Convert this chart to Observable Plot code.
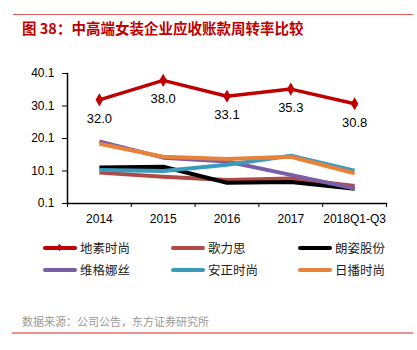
<!DOCTYPE html>
<html><head><meta charset="utf-8">
<script src="https://cdn.jsdelivr.net/npm/d3@7"></script>
<script src="https://cdn.jsdelivr.net/npm/@observablehq/plot@0.6"></script>
<style>
html,body{margin:0;padding:0;background:#fff;}
#page{position:relative;width:417px;height:350px;overflow:hidden;font-family:"Liberation Sans",Arial,sans-serif;}
.abs{position:absolute;}
#topline{left:13px;top:13.5px;width:400px;height:1px;background:#e05a5a;}
#title{left:22px;top:18px;font-family:"Noto Sans CJK SC",sans-serif;font-weight:bold;font-size:14.5px;color:#c00000;white-space:nowrap;line-height:20px;}
#chart{left:0;top:60px;}
.lg{position:absolute;height:16px;line-height:16px;font-family:"Noto Sans CJK SC",sans-serif;font-size:12.5px;color:#222;white-space:nowrap;}
.sw{position:absolute;top:6px;width:34px;height:4px;border-radius:2px;}
.lt{position:absolute;top:0;}
.dia{position:absolute;left:14px;top:5px;width:5px;height:5px;transform:rotate(45deg);}
#source{left:22px;top:313px;font-family:"Noto Sans CJK SC",sans-serif;font-size:11px;color:#999;white-space:nowrap;line-height:16px;}
#botline{left:12px;top:332px;width:401px;height:1.5px;background:#f09090;}
</style></head>
<body><div id="page">
<div id="topline" class="abs"></div>
<div id="title" class="abs">图 38：中高端女装企业应收账款周转率比较</div>
<div id="chart" class="abs"></div>
<div id="legend"></div>
<div id="source" class="abs">数据来源：公司公告，东方证券研究所</div>
<div id="botline" class="abs"></div>
</div>
<script>
const years = ["2014", "2015", "2016", "2017", "2018Q1-Q3"];
const seriesNames = ["地素时尚", "歌力思", "朗姿股份", "维格娜丝", "安正时尚", "日播时尚"];
const seriesColors = ["#c00000", "#b04a46", "#000000", "#7a5fa6", "#3a9bbd", "#e8823a"];
const disu = [32.0, 38.0, 33.1, 35.3, 30.8];
const gelisi = [9.6, 8.3, 7.3, 7.8, 5.5];
const langzi = [11.2, 11.4, 6.5, 6.7, 4.6];
const weige = [19.2, 14.2, 13.0, 8.9, 4.7];
const anzheng = [10.4, 10.1, 12.0, 14.8, 10.2];
const ribo = [18.5, 14.5, 13.8, 14.5, 9.4];
const yTicks = [0.1, 10.1, 20.1, 30.1, 40.1];

const allValues = [disu, gelisi, langzi, weige, anzheng, ribo];
const rows = [];
allValues.forEach((vals, s) => vals.forEach((v, i) => rows.push({series: seriesNames[s], i, v})));
const redRows = rows.filter(d => d.series === seriesNames[0]);
const otherRows = rows.filter(d => d.series !== seriesNames[0]);

const chart = Plot.plot({
  width: 417, height: 170,
  marginLeft: 67, marginRight: 31, marginTop: 13, marginBottom: 27,
  style: {fontFamily: "Liberation Sans, Arial, sans-serif", fontSize: "12px", color: "#000", background: "transparent"},
  x: {type: "linear", domain: [-0.5, years.length - 0.5]},
  y: {domain: [0.1, 40.1]},
  color: {domain: seriesNames, range: seriesColors},
  marks: [
    Plot.axisY({ticks: yTicks, tickFormat: d => d.toFixed(1), tickSize: 5, tickPadding: 8, label: null, fontSize: 12}),
    Plot.axisX({ticks: d3.range(years.length), tickFormat: i => years[i], tickSize: 0, tickPadding: 11, label: null, fontSize: 12}),
    Plot.axisX({ticks: d3.range(years.length + 1).map(k => k - 0.5), tickFormat: () => "", tickSize: 4, label: null}),
    Plot.frame({anchor: "left", stroke: "#000", strokeWidth: 1.5}),
    Plot.frame({anchor: "bottom", stroke: "#000", strokeWidth: 1.5}),
    Plot.line(otherRows, {x: "i", y: "v", z: "series", stroke: "series", strokeWidth: 4, strokeLinejoin: "round", strokeLinecap: "butt"}),
    Plot.line(redRows, {x: "i", y: "v", stroke: seriesColors[0], strokeWidth: 3.5, strokeLinejoin: "round"}),
    Plot.dot(redRows, {x: "i", y: "v", symbol: "diamond", r: 4, fill: seriesColors[0], stroke: "none"}),
    Plot.text(redRows, {x: "i", y: "v", text: d => d.v.toFixed(1), dy: 19, fontSize: 13, fill: "#000", fontFamily: "Liberation Sans, Arial, sans-serif"})
  ]
});
document.getElementById("chart").appendChild(chart);

// legend
const legend = document.getElementById("legend");
const colX = [43, 171, 298];
const rowY = [240, 262];
seriesNames.forEach((name, k) => {
  const c = k % 3, r = Math.floor(k / 3);
  const item = document.createElement("div");
  item.className = "lg";
  item.style.left = colX[c] + "px";
  item.style.top = rowY[r] + "px";
  item.style.width = "100px";
  const sw = document.createElement("div");
  sw.className = "sw";
  sw.style.left = "0px";
  sw.style.background = seriesColors[k];
  item.appendChild(sw);
  if (k === 0) {
    const d = document.createElement("div");
    d.className = "dia";
    d.style.background = seriesColors[k];
    item.appendChild(d);
  }
  const t = document.createElement("span");
  t.className = "lt";
  t.style.left = "37px";
  t.textContent = name;
  item.appendChild(t);
  legend.appendChild(item);
});
</script>
</body></html>
